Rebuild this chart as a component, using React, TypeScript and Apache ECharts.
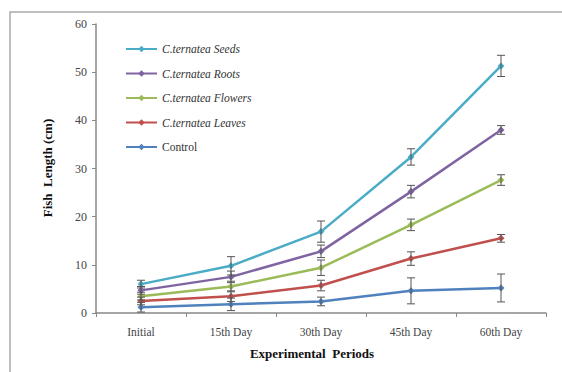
import React, { useEffect, useRef } from "react";
import * as echarts from "echarts";

const categories = ["Initial", "15th Day", "30th Day", "45th Day", "60th Day"];
const seriesNames = [
  "C.ternatea Seeds",
  "C.ternatea Roots",
  "C.ternatea Flowers",
  "C.ternatea Leaves",
  "Control",
];
const seeds = [6.0, 9.8, 16.9, 32.4, 51.3];
const roots = [4.7, 7.5, 12.8, 25.2, 38.0];
const flowers = [3.5, 5.5, 9.4, 18.3, 27.6];
const leaves = [2.5, 3.5, 5.7, 11.3, 15.5];
const control = [1.2, 1.8, 2.4, 4.6, 5.2];

const seedsErr = [0.8, 1.9, 2.2, 1.7, 2.2];
const rootsErr = [0.8, 1.2, 1.3, 1.3, 0.9];
const flowersErr = [0.8, 1.1, 1.6, 1.2, 1.1];
const leavesErr = [0.8, 1.1, 1.1, 1.4, 0.8];
const controlErr = [1.0, 1.3, 0.9, 2.7, 2.9];

const colors = ["#4bacc6", "#8064a2", "#9bbb59", "#c0504d", "#4f81bd"];
const yTicks = { min: 0, max: 60, interval: 10 };

export default function App() {
  const ref = useRef<HTMLDivElement>(null);
  useEffect(() => {
    if (!ref.current) return;
    const chart = echarts.init(ref.current, null, { renderer: "svg" });
    const values = [seeds, roots, flowers, leaves, control];
    const errs = [seedsErr, rootsErr, flowersErr, leavesErr, controlErr];

    const errData: number[][] = [];
    values.forEach((vals, s) => {
      vals.forEach((v, i) => {
        errData.push([i, v - errs[s][i], v + errs[s][i]]);
      });
    });

    const lineSeries = seriesNames.map((name, s) => ({
      name,
      type: "line",
      data: values[s],
      symbol: "diamond",
      symbolSize: 7,
      lineStyle: { width: 2.5, color: colors[s] },
      itemStyle: { color: colors[s] },
      z: 3 + (seriesNames.length - s),
    }));

    const serif = "Liberation Serif";

    chart.setOption({
      animation: false,
      backgroundColor: "#ffffff",
      textStyle: { fontFamily: serif },
      grid: { left: 96, right: 16, top: 24, bottom: 59 },
      legend: {
        orient: "vertical",
        left: 120,
        top: 38,
        itemWidth: 31,
        itemHeight: 8,
        itemGap: 12.5,
        data: seriesNames,
        formatter: (n: string) => (n === "Control" ? `{n|${n}}` : `{i|${n}}`),
        textStyle: {
          fontFamily: serif,
          fontSize: 11.5,
          color: "#333",
          rich: {
            i: { fontFamily: serif, fontStyle: "italic", fontSize: 11.5, color: "#333" },
            n: { fontFamily: serif, fontSize: 11.5, color: "#333" },
          },
        },
      },
      xAxis: {
        type: "category",
        data: categories,
        boundaryGap: true,
        axisLine: { lineStyle: { color: "#888", width: 1.5 } },
        axisTick: { show: true, length: 4, inside: false, lineStyle: { color: "#888" } },
        axisLabel: { fontFamily: serif, fontSize: 11.5, color: "#444", margin: 13 },
      },
      yAxis: {
        type: "value",
        min: yTicks.min,
        max: yTicks.max,
        interval: yTicks.interval,
        splitLine: { show: false },
        axisLine: { show: true, lineStyle: { color: "#888", width: 1.5 } },
        axisTick: { show: true, length: 4, lineStyle: { color: "#888" } },
        axisLabel: { fontFamily: serif, fontSize: 12, color: "#444", margin: 9 },
      },
      graphic: [
        {
          type: "rect",
          shape: { x: 10, y: 12, width: 620, height: 420 },
          style: { fill: "none", stroke: "#aaa", lineWidth: 1.5 },
          silent: true,
          z: -10,
        },
        {
          type: "text",
          x: 312,
          y: 353,
          style: {
            text: "Experimental  Periods",
            font: `bold 13px ${serif}`,
            fill: "#111",
            textAlign: "center",
            textVerticalAlign: "middle",
          },
        },
        {
          type: "text",
          x: 47,
          y: 168,
          rotation: Math.PI / 2,
          style: {
            text: "Fish  Length (cm)",
            font: `bold 13px ${serif}`,
            fill: "#111",
            textAlign: "center",
            textVerticalAlign: "middle",
          },
        },
      ],
      series: [
        ...lineSeries,
        {
          type: "custom",
          name: "errors",
          data: errData,
          z: 20,
          renderItem: (params: any, api: any) => {
            const x = api.value(0);
            const lo = api.coord([x, api.value(1)]);
            const hi = api.coord([x, api.value(2)]);
            const hw = 4;
            const st = { stroke: "#555", lineWidth: 1 };
            return {
              type: "group",
              children: [
                { type: "line", shape: { x1: lo[0], y1: lo[1], x2: hi[0], y2: hi[1] }, style: st },
                { type: "line", shape: { x1: lo[0] - hw, y1: lo[1], x2: lo[0] + hw, y2: lo[1] }, style: st },
                { type: "line", shape: { x1: hi[0] - hw, y1: hi[1], x2: hi[0] + hw, y2: hi[1] }, style: st },
              ],
            };
          },
        },
      ],
    });
    return () => chart.dispose();
  }, []);
  return (
    <div
      ref={ref}
      style={{ position: "fixed", left: 0, top: 0, width: 562, height: 372 }}
    />
  );
}
